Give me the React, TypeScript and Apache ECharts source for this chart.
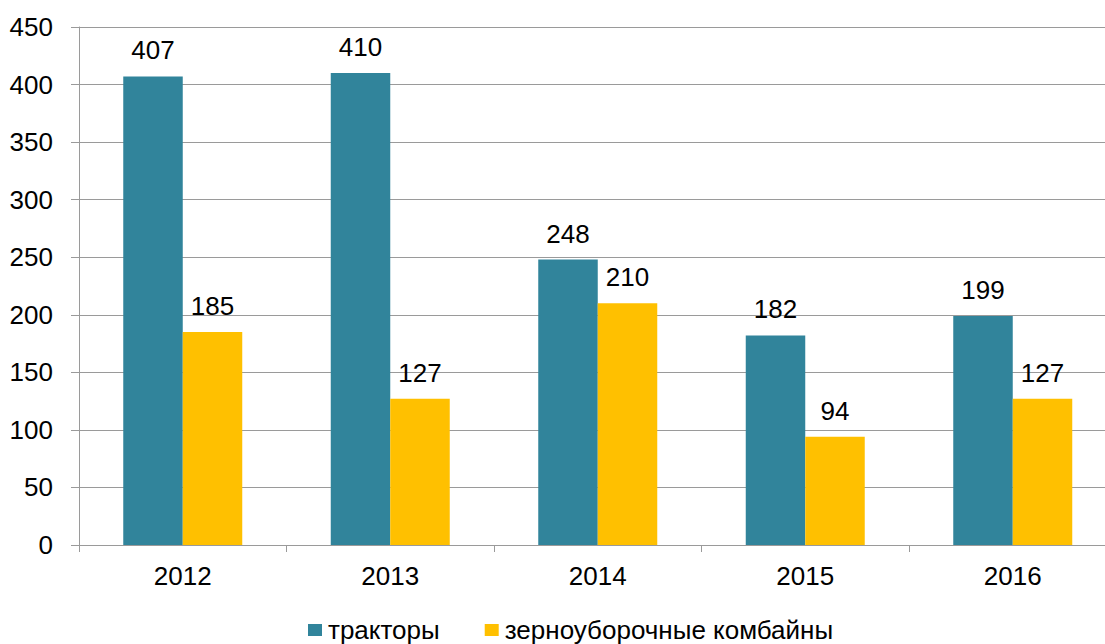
import React, { useEffect, useRef } from "react";
import * as echarts from "echarts";

const categories = ["2012", "2013", "2014", "2015", "2016"];
const tractors = [407, 410, 248, 182, 199];
const combines = [185, 127, 210, 94, 127];
const seriesNames = ["тракторы", "зерноуборочные комбайны"];
const yTicks = { min: 0, max: 450, interval: 50 };

const FONT = "'Liberation Sans', Arial, sans-serif";
const AXIS_GRAY = "#9a9a9a";
const FS = 26;

export default function App() {
  const ref = useRef<HTMLDivElement>(null);
  useEffect(() => {
    if (!ref.current) return;
    const chart = echarts.init(ref.current, undefined, { renderer: "svg" });
    const labelStyle = {
      show: true,
      position: "top" as const,
      distance: 13,
      color: "#000",
      fontSize: FS,
      fontFamily: FONT,
    };
    chart.setOption({
      animation: false,
      backgroundColor: "#fff",
      textStyle: { fontFamily: FONT },
      grid: { left: 79, top: 27, bottom: 99, right: 8.5 },
      legend: {
        left: 303,
        top: 612,
        itemWidth: 14,
        itemHeight: 12,
        itemGap: 45,
        icon: "rect",
        textStyle: { fontSize: FS, color: "#000", fontFamily: FONT, padding: [0, 0, 0, 1] },
        data: seriesNames,
      },
      xAxis: {
        type: "category",
        data: categories,
        axisLine: { lineStyle: { color: AXIS_GRAY, width: 1 } },
        axisTick: { show: true, length: 7, lineStyle: { color: AXIS_GRAY } },
        axisLabel: { color: "#000", fontSize: FS, margin: 18, fontFamily: FONT },
      },
      yAxis: {
        type: "value",
        min: yTicks.min,
        max: yTicks.max,
        interval: yTicks.interval,
        axisLine: { show: true, lineStyle: { color: AXIS_GRAY, width: 1 } },
        axisTick: { show: true, length: 8, lineStyle: { color: AXIS_GRAY } },
        axisLabel: { color: "#000", fontSize: FS, margin: 26, fontFamily: FONT },
        splitLine: { show: true, lineStyle: { color: AXIS_GRAY, width: 1 } },
      },
      series: [
        {
          name: seriesNames[0],
          type: "bar",
          data: tractors,
          barWidth: 59.5,
          barGap: "0%",
          itemStyle: { color: "#31849B" },
          label: labelStyle,
        },
        {
          name: seriesNames[1],
          type: "bar",
          data: combines,
          barWidth: 59.5,
          barGap: "0%",
          itemStyle: { color: "#FFC000" },
          label: labelStyle,
        },
      ],
    });
    return () => chart.dispose();
  }, []);
  return (
    <div
      style={{
        position: "fixed",
        left: 0,
        top: 0,
        width: 1105,
        height: 644,
        overflow: "hidden",
        background: "#fff",
      }}
    >
      <div ref={ref} style={{ width: 1125, height: 644 }} />
    </div>
  );
}
